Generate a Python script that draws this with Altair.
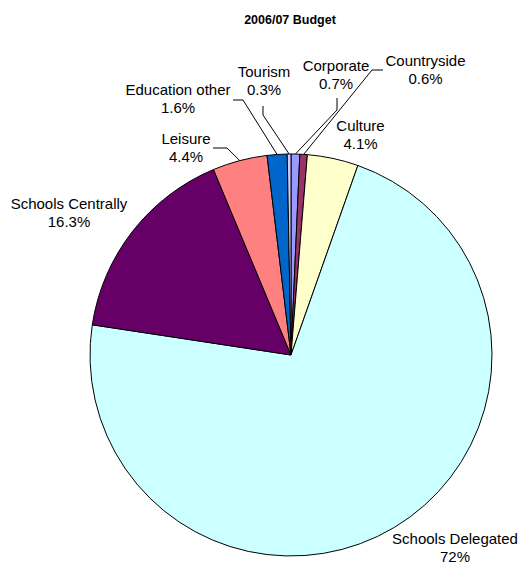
import math
import altair as alt
import pandas as pd

# ---- data ----
categories = ["Corporate", "Countryside", "Culture", "Schools Delegated",
              "Schools Centrally", "Leisure", "Education other", "Tourism"]
shares = [0.7, 0.6, 4.1, 72, 16.3, 4.4, 1.6, 0.3]
colors = ["#9999FF", "#993366", "#FFFFCC", "#CCFFFF",
          "#660066", "#FF8080", "#0066CC", "#CCCCFF"]
title_text = "2006/07 Budget"

# ---- layout (annotation placement, view pixels) ----
CX, CY, R = 283, 347, 201
FONT = "Liberation Sans, Arial, sans-serif"
FS = 15
LINE2 = 18
label_x = [328, 417.5, 352.5, 447, 61, 178, 170, 256]
label_y = [58, 53, 118, 531, 196, 131, 82, 64]
# leader lines: label-side anchor and elbow
leader = {
    "Corporate": [(329, 90), (329, 102)],
    "Countryside": [(375, 62), (364, 62)],
    "Leisure": [(205, 140), (219, 140)],
    "Education other": [(225, 92), (235, 92)],
    "Tourism": [(255, 98), (255, 107)],
}

df = pd.DataFrame({
    "category": categories,
    "share": shares,
    "order": list(range(len(categories))),
})
df["pct"] = [f"{v:g}%" for v in shares]
df["lx"] = label_x
df["ly"] = label_y

# edge point of each slice's mid-angle (from the data)
cum = 0.0
edge = {}
for c, v in zip(categories, shares):
    a = 2 * math.pi * (cum + v / 2) / 100.0
    edge[c] = (CX + R * math.sin(a), CY - R * math.cos(a))
    cum += v

rows = []
for c, pts in leader.items():
    allpts = pts + [edge[c]]
    for i, (px, py) in enumerate(allpts):
        rows.append({"category": c, "i": i, "px": px, "py": py})
lines_df = pd.DataFrame(rows)

pie = alt.Chart(df).mark_arc(stroke="black", strokeWidth=1).encode(
    theta=alt.Theta("share:Q", stack=True),
    order=alt.Order("order:Q"),
    color=alt.Color("category:N", scale=alt.Scale(domain=categories, range=colors), legend=None),
    x=alt.value(CX),
    y=alt.value(CY),
    radius=alt.value(R),
)

leaders = alt.Chart(lines_df).mark_line(color="black", strokeWidth=1).encode(
    x=alt.X("px:Q", scale=None, axis=None),
    y=alt.Y("py:Q", scale=None, axis=None),
    detail="category:N",
    order="i:Q",
)

names = alt.Chart(df).mark_text(font=FONT, fontSize=FS, color="black",
                                 align="center", baseline="middle").encode(
    x=alt.X("lx:Q", scale=None, axis=None),
    y=alt.Y("ly:Q", scale=None, axis=None),
    text="category:N",
)

pcts = alt.Chart(df).mark_text(font=FONT, fontSize=FS, color="black",
                                align="center", baseline="middle", dy=LINE2).encode(
    x=alt.X("lx:Q", scale=None, axis=None),
    y=alt.Y("ly:Q", scale=None, axis=None),
    text="pct:N",
)

title = alt.Chart(pd.DataFrame({"t": [title_text]})).mark_text(
    font=FONT, fontSize=12.5, fontWeight="bold", color="black",
    align="center", baseline="middle").encode(
    x=alt.value(282), y=alt.value(12), text="t:N")

chart = alt.layer(pie, leaders, names, pcts, title).properties(
    width=512, height=556,
    autosize=alt.AutoSizeParams(type="none"),
    padding=0,
).configure_view(stroke=None)

chart.save("out.html", embed_options={"renderer": "svg", "actions": False})
